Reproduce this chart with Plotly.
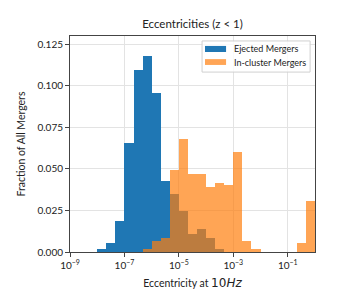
import plotly.graph_objects as go

# Histogram bins: left edges as log10(eccentricity), width = 1/3 decade
bin_width_dex = 1 / 3

ejected_left_edges = [-8.0, -7.6667, -7.3333, -7.0, -6.6667, -6.3333, -6.0, -5.6667,
                      -5.3333, -5.0, -4.6667, -4.3333, -4.0, -3.6667]
ejected_fraction = [0.0016, 0.0056, 0.0189, 0.0655, 0.1096, 0.1179, 0.0954, 0.0430,
                    0.0350, 0.0245, 0.0108, 0.0137, 0.0082, 0.0016]

incluster_left_edges = [-6.3333, -6.0, -5.6667, -5.3333, -5.0, -4.6667, -4.3333, -4.0,
                        -3.6667, -3.3333, -3.0, -2.6667, -2.3333, -0.6667, -0.3333]
incluster_fraction = [0.0016, 0.0066, 0.0082, 0.0494, 0.0680, 0.0468, 0.0468, 0.0390,
                      0.0418, 0.0404, 0.0602, 0.0068, 0.0016, 0.0056, 0.0307]

series_names = ["Ejected Mergers", "In-cluster Mergers"]
series_colors = ["#1f77b4", "#ff7f0e"]
series_swatch_colors = ["#1f77b4", "#ffa556"]

x_tick_exponents = [-9, -7, -5, -3, -1]
x_tick_labels = ["10<sup>−9</sup>", "10<sup>−7</sup>", "10<sup>−5</sup>", "10<sup>−3</sup>", "10<sup>−1</sup>"]
y_tick_values = [0.0, 0.025, 0.05, 0.075, 0.1, 0.125]

FONT = "Lato"
TXT = "#222"

fig = go.Figure()
fig.add_trace(go.Bar(
    x=[e + bin_width_dex / 2 for e in ejected_left_edges],
    y=ejected_fraction,
    width=bin_width_dex,
    name=series_names[0],
    marker=dict(color=series_colors[0], line=dict(width=0)),
))
fig.add_trace(go.Bar(
    x=[e + bin_width_dex / 2 for e in incluster_left_edges],
    y=incluster_fraction,
    width=bin_width_dex,
    name=series_names[1],
    marker=dict(color=series_colors[1], line=dict(width=0)),
    opacity=0.7,
))

# Legend drawn in paper coordinates (matplotlib-style compact legend)
shapes = [
    dict(type="rect", xref="paper", yref="paper", x0=0.539, x1=0.980, y0=0.833, y1=0.977,
         line=dict(color="#d0d0d0", width=1), fillcolor="rgba(255,255,255,0.8)", layer="above"),
]
annotations = []
swatch_y = [(0.926, 0.954), (0.866, 0.893)]
text_y = [0.940, 0.877]
for i in range(2):
    shapes.append(dict(type="rect", xref="paper", yref="paper", x0=0.551, x1=0.637,
                       y0=swatch_y[i][0], y1=swatch_y[i][1], line=dict(width=0),
                       fillcolor=series_swatch_colors[i], layer="above"))
    annotations.append(dict(text=series_names[i], xref="paper", yref="paper", x=0.661, y=text_y[i],
                            xanchor="left", yanchor="middle", showarrow=False,
                            font=dict(size=9, family=FONT, color=TXT)))

fig.update_layout(
    width=350, height=300,
    margin=dict(l=62, r=43, t=28, b=56),
    barmode="overlay", bargap=0,
    paper_bgcolor="white", plot_bgcolor="white",
    font=dict(family=FONT, color=TXT, size=10),
    title=dict(text="Eccentricities (z < 1)", x=0.5, xref="paper", xanchor="center",
               y=1 - 16 / 300, yanchor="middle", font=dict(size=11.5, family=FONT, color=TXT)),
    showlegend=False,
    shapes=shapes,
    annotations=annotations,
)
fig.update_xaxes(
    range=[-9, 0.0], tickmode="array", tickvals=x_tick_exponents, ticktext=x_tick_labels,
    showgrid=True, gridcolor="#e3e3e3", gridwidth=1,
    showline=True, linecolor="#444", linewidth=1, mirror=True,
    ticks="outside", ticklen=4, tickcolor="#444", zeroline=False,
    title=dict(text="Eccentricity at <span style='font-size:12px;font-family:DejaVu Sans'>10<i>Hz</i></span>",
               font=dict(size=10.5, family=FONT, color=TXT), standoff=9),
    tickfont=dict(size=10, family=FONT, color=TXT),
)
fig.update_yaxes(
    range=[0, 0.130], tickmode="array", tickvals=y_tick_values, tickformat=".3f",
    showgrid=True, gridcolor="#e3e3e3", gridwidth=1,
    showline=True, linecolor="#444", linewidth=1, mirror=True,
    ticks="outside", ticklen=4, tickcolor="#444", zeroline=False,
    title=dict(text="Fraction of All Mergers", font=dict(size=10.5, family=FONT, color=TXT), standoff=9),
    tickfont=dict(size=10, family=FONT, color=TXT),
)

fig.write_html("out.html")
